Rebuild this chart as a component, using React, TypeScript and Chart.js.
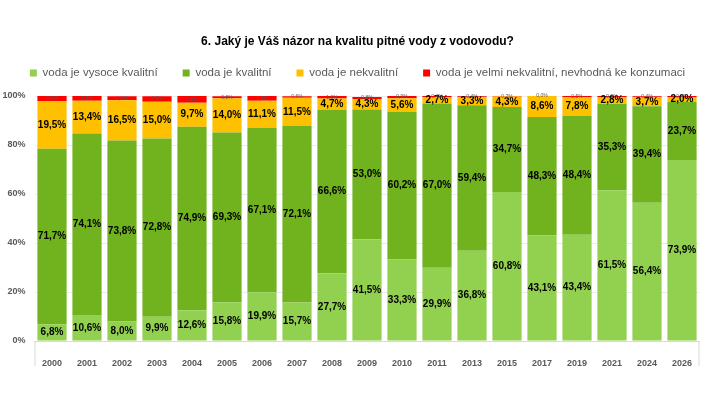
import { useEffect, useRef } from "react";
import { Chart, registerables } from "chart.js";

Chart.register(...registerables);

const years = ["2000", "2001", "2002", "2003", "2004", "2005", "2006", "2007", "2008", "2009", "2010", "2011", "2013", "2015", "2017", "2019", "2021", "2024", "2026"];
const veryGood = [6.8, 10.6, 8.0, 9.9, 12.6, 15.8, 19.9, 15.7, 27.7, 41.5, 33.3, 29.9, 36.8, 60.8, 43.1, 43.4, 61.5, 56.4, 73.9];
const good = [71.7, 74.1, 73.8, 72.8, 74.9, 69.3, 67.1, 72.1, 66.6, 53.0, 60.2, 67.0, 59.4, 34.7, 48.3, 48.4, 35.3, 39.4, 23.7];
const poor = [19.5, 13.4, 16.5, 15.0, 9.7, 14.0, 11.1, 11.5, 4.7, 4.3, 5.6, 2.7, 3.3, 4.3, 8.6, 7.8, 2.8, 3.7, 2.0];
const veryPoor = [2.0, 1.9, 1.6, 2.2, 2.8, 0.8, 1.9, 0.6, 1.0, 0.8, 0.9, 0.4, 0.4, 0.2, 0.0, 0.5, 0.5, 0.4, 0.4];
const seriesNames = [
  "voda je vysoce kvalitní",
  "voda je kvalitní",
  "voda je nekvalitní",
  "voda je velmi nekvalitní, nevhodná ke konzumaci",
];
const yTicks = [0, 20, 40, 60, 80, 100];

const SANS = "'Liberation Sans', Arial, sans-serif";
const GREY = "#595959";

const fmt = (v: number) => v.toFixed(1).replace(".", ",") + "%";

// values written into the middle of each stacked segment
const segmentLabels = {
  id: "segmentLabels",
  afterDatasetsDraw(chart: any) {
    const { ctx, chartArea } = chart;
    ctx.save();
    // outer edges of the category axis box
    ctx.strokeStyle = "#d9d9d9";
    ctx.lineWidth = 1;
    ctx.beginPath();
    ctx.moveTo(chartArea.left + 0.5, chartArea.bottom);
    ctx.lineTo(chartArea.left + 0.5, chartArea.bottom + 25);
    ctx.moveTo(chartArea.right - 0.5, chartArea.bottom);
    ctx.lineTo(chartArea.right - 0.5, chartArea.bottom + 25);
    ctx.stroke();

    ctx.textAlign = "center";
    ctx.textBaseline = "middle";
    chart.data.datasets.forEach((ds: any, i: number) => {
      const meta = chart.getDatasetMeta(i);
      const tiny = i === 3;
      ctx.font = tiny ? `5px ${SANS}` : `bold 10px ${SANS}`;
      ctx.fillStyle = tiny ? GREY : "#000";
      meta.data.forEach((bar: any, j: number) => {
        const { x, y, base } = bar.getProps(["x", "y", "base"], true);
        ctx.fillText(fmt(ds.data[j]), x, (y + base) / 2);
      });
    });
    ctx.restore();
  },
};

// invisible axes used only as spacers around the plot
const spacer = (position: string, size: number) => ({
  type: "linear",
  position,
  display: true,
  grid: { display: false },
  border: { display: false },
  ticks: { display: false },
  afterFit: (s: any) => {
    if (s.isHorizontal()) s.height = size;
    else s.width = size;
  },
});

const App = () => {
  const canvasRef = useRef<HTMLCanvasElement>(null);
  const chartRef = useRef<Chart | null>(null);

  useEffect(() => {
    if (!canvasRef.current) return;
    if (chartRef.current) chartRef.current.destroy();

    const colors = ["#92d050", "#71b21f", "#ffc000", "#ff0000"];
    const values = [veryGood, good, poor, veryPoor];

    chartRef.current = new Chart(canvasRef.current, {
      type: "bar",
      data: {
        labels: years,
        datasets: values.map((data, i) => ({
          label: seriesNames[i],
          data,
          xAxisID: "x",
          yAxisID: "y",
          backgroundColor: colors[i],
          borderWidth: 0,
          barPercentage: 1,
          categoryPercentage: 0.834,
        })),
      },
      options: {
        responsive: true,
        maintainAspectRatio: false,
        animation: false,
        layout: { padding: { top: 0, left: 0, right: 0, bottom: 36 } },
        plugins: {
          title: {
            display: true,
            text: "6. Jaký je Váš názor na kvalitu pitné vody z vodovodu?",
            color: "#000",
            font: { family: SANS, size: 12, weight: "bold" },
            padding: { top: 34.8, bottom: -6.95 },
          },
          legend: {
            position: "top",
            labels: {
              boxWidth: 7,
              boxHeight: 7,
              padding: 25,
              color: GREY,
              font: { family: SANS, size: 11.5 },
            },
          },
          tooltip: { enabled: false },
        },
        scales: {
          x: {
            stacked: true,
            grid: { display: false },
            border: { color: "#d9d9d9" },
            ticks: {
              color: GREY,
              padding: 9,
              font: { family: SANS, size: 9, weight: "bold" },
            },
            afterFit: (s: any) => {
              s.height = 25;
            },
          },
          y: {
            stacked: true,
            min: 0,
            max: 100,
            grid: { color: "#ececec", drawTicks: false },
            border: { display: false },
            afterBuildTicks: (s: any) => {
              s.ticks = yTicks.map((v) => ({ value: v }));
            },
            ticks: {
              color: GREY,
              padding: 9,
              font: { family: SANS, size: 9, weight: "bold" },
              callback: (v: any) => v + "%",
            },
            afterFit: (s: any) => {
              s.width = 34.5;
            },
          },
          gapTop: spacer("top", 7.25),
          gapRight: spacer("right", 15.5),
        },
      },
      plugins: [segmentLabels],
    });

    return () => {
      if (chartRef.current) {
        chartRef.current.destroy();
        chartRef.current = null;
      }
    };
  }, []);

  return (
    <div
      style={{
        position: "fixed",
        left: 0,
        top: 0,
        width: "715px",
        height: "402px",
        background: "#fff",
      }}
    >
      <canvas ref={canvasRef}></canvas>
    </div>
  );
};

export default App;
